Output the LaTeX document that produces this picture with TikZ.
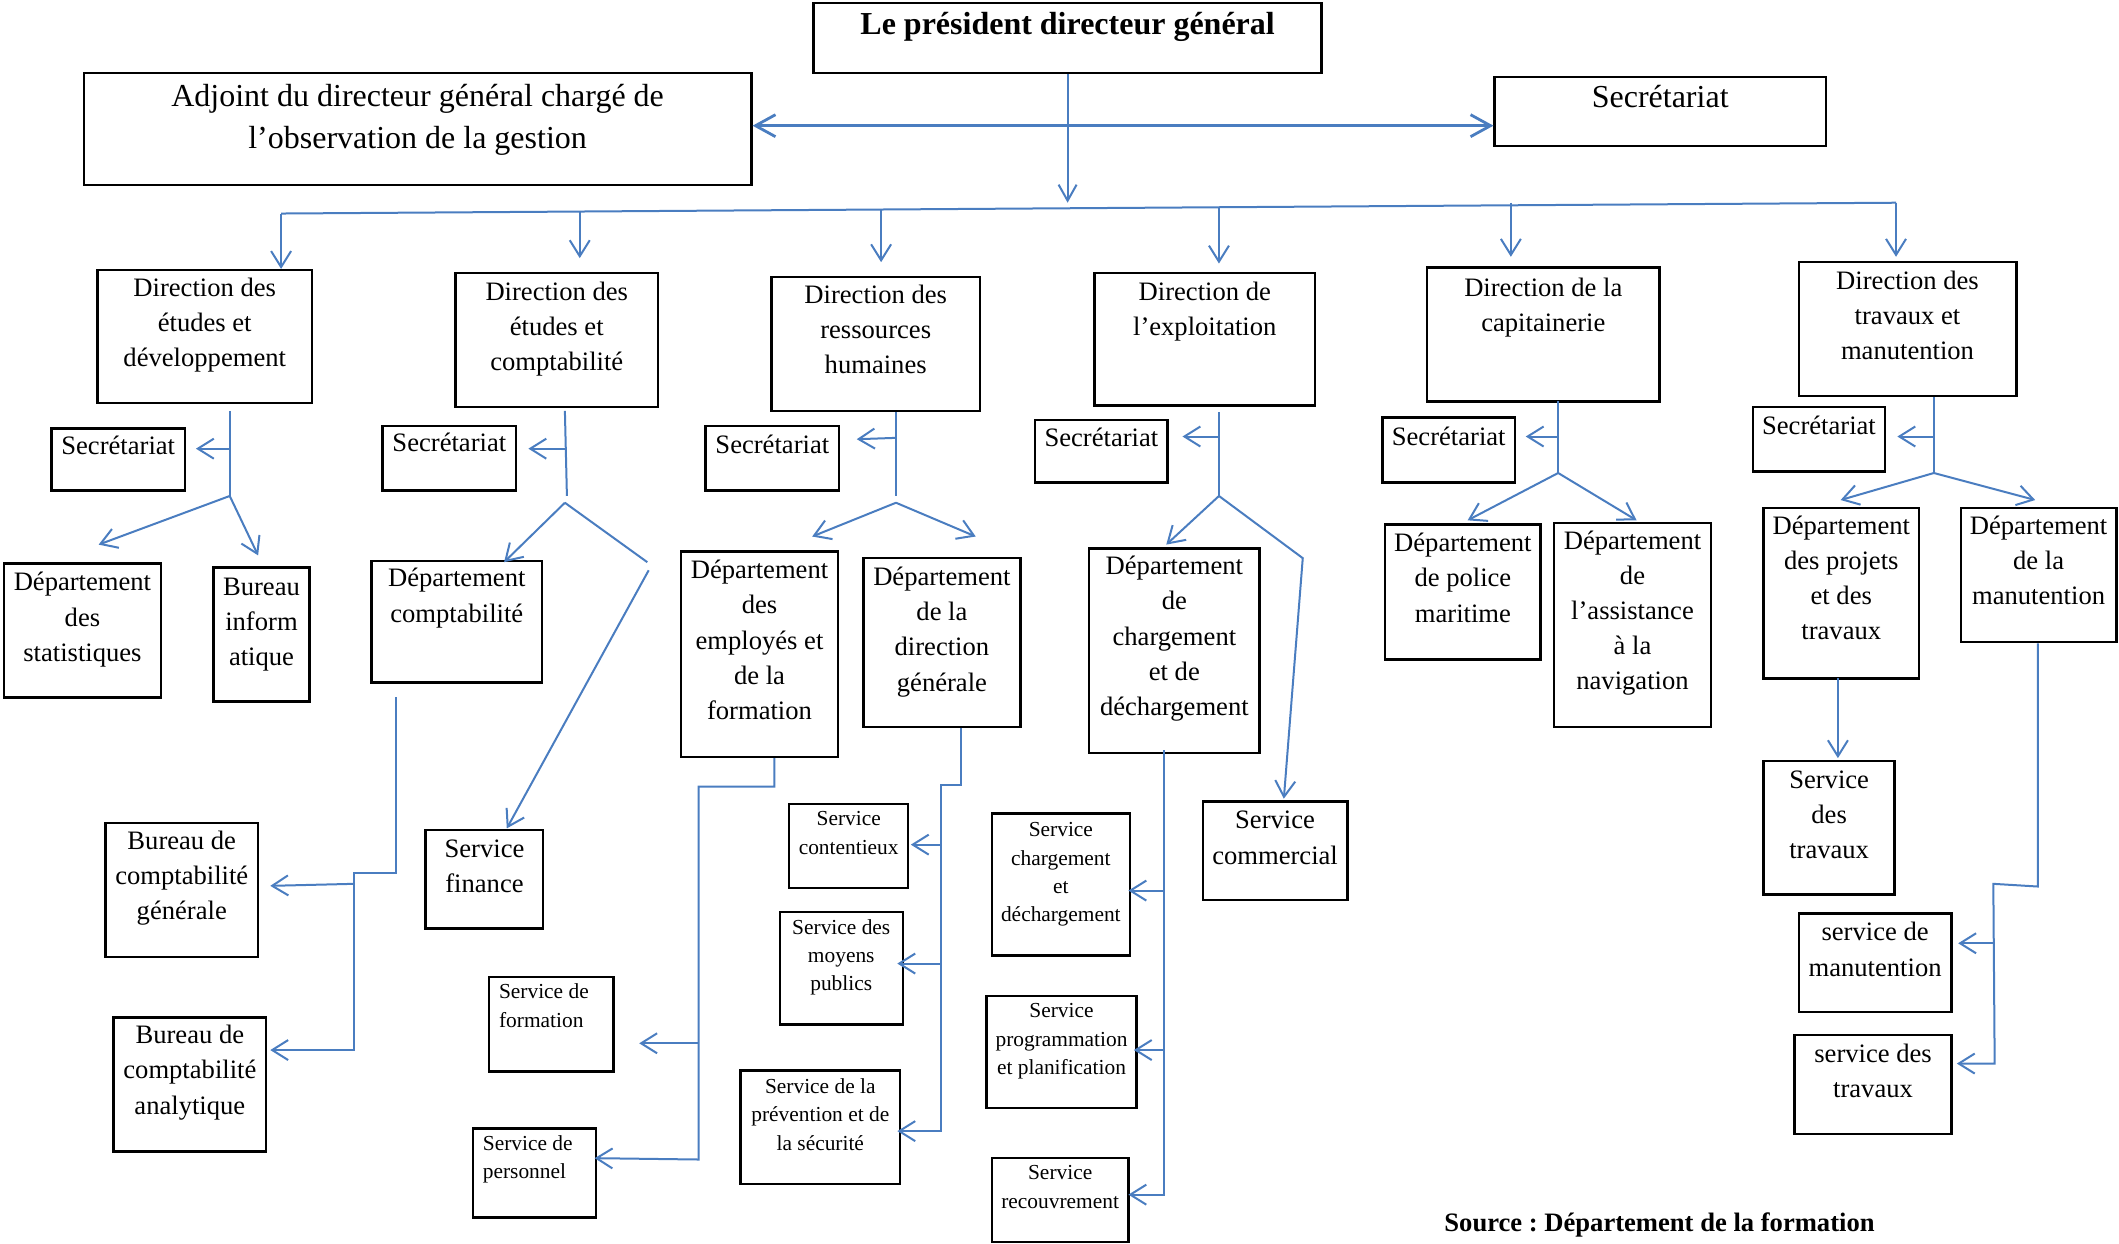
\documentclass[tikz,border=0pt]{standalone}
\usepackage{fontspec}
\setmainfont{Liberation Serif}
\usetikzlibrary{arrows.meta,fit}
\definecolor{ln}{HTML}{4A7DC0}
\frenchspacing
\newcommand\bxn[8]{%
  \node[bx, fit={(#2,#3) (#4,#5)}] (#1) {};
  \node[#6] (#1-t) at ({(#2+#4)/2},#7) {\strut #8};}
\tikzset{
 bx/.style={draw=black, line width=1.2pt, inner sep=0pt, rectangle},
 tb/.style={font=\fontsize{16}{21}\selectfont, align=center, inner sep=0pt, anchor=north, yshift=9.2pt},
 tbb/.style={tb, font=\fontsize{16}{21}\selectfont\bfseries},
 tm/.style={font=\fontsize{13.3}{17.6}\selectfont, align=center, inner sep=0pt, anchor=north, yshift=7.6pt},
 ts/.style={font=\fontsize{10.7}{14.2}\selectfont, align=center, inner sep=0pt, anchor=north, yshift=6.0pt},
 cn/.style={draw=ln, line width=1pt, line join=miter},
 ar/.style={cn, -{Straight Barb[length=8pt,width=10pt]}},
 art/.style={draw=ln, line width=1.4pt, {Straight Barb[length=10pt,width=11pt]}-{Straight Barb[length=10pt,width=11pt]}},
}
\begin{document}
\begin{tikzpicture}[x=0.6757pt,y=-0.6757pt]
\useasboundingbox (0,0) rectangle (1568,920);
% ---------- top ----------
\bxn{pdg}{602}{2}{978}{54}{tbb}{17}{Le président directeur général}
\bxn{adj}{62}{54}{556}{137}{tb}{70}{Adjoint du directeur général chargé de\\l’observation de la gestion}
\bxn{sec0}{1106}{57}{1351}{108}{tb}{71}{Secrétariat}
% ---------- directions ----------
\bxn{d1}{72}{200}{231}{298}{tm}{212}{Direction des\\études et\\développement}
\bxn{d2}{337}{202}{487}{301}{tm}{215}{Direction des\\études et\\comptabilité}
\bxn{d3}{571}{205}{725}{304}{tm}{217}{Direction des\\ressources\\humaines}
\bxn{d4}{810}{202}{973}{300}{tm}{215}{Direction de\\l’exploitation}
\bxn{d5}{1056}{198}{1228}{297}{tm}{212}{Direction de la\\capitainerie}
\bxn{d6}{1331}{194}{1492}{293}{tm}{207}{Direction des\\travaux et\\manutention}
% ---------- secretariats ----------
\bxn{s1}{38}{317}{137}{363}{tm}{329}{Secrétariat}
\bxn{s2}{283}{315}{382}{363}{tm}{327}{Secrétariat}
\bxn{s3}{522}{315}{621}{363}{tm}{328}{Secrétariat}
\bxn{s4}{766}{311}{864}{357}{tm}{323}{Secrétariat}
\bxn{s5}{1023}{309}{1121}{357}{tm}{322}{Secrétariat}
\bxn{s6}{1297}{301}{1395}{349}{tm}{314}{Secrétariat}
% ---------- column 1 ----------
\bxn{dstat}{3}{417}{119}{516}{tm}{430}{Département\\des\\statistiques}
\bxn{binf}{158}{420}{229}{519}{tm}{433}{Bureau\\inform\\atique}
% ---------- column 2 ----------
\bxn{dcomp}{275}{415}{401}{505}{tm}{427}{Département\\comptabilité}
\bxn{sfin}{315}{614}{402}{687}{tm}{627}{Service\\finance}
\bxn{bcg}{78}{609}{191}{708}{tm}{621}{Bureau de\\comptabilité\\générale}
\bxn{bca}{84}{753}{197}{852}{tm}{765}{Bureau de\\comptabilité\\analytique}
% ---------- column 3 ----------
\bxn{demp}{504}{408}{620}{560}{tm}{421}{Département\\des\\employés et\\de la\\formation}
\bxn{ddg}{639}{413}{755}{538}{tm}{426}{Département\\de la\\direction\\générale}
\bxn{scont}{584}{595}{672}{657}{ts}{605}{Service\\contentieux}
\bxn{smoy}{577}{675}{668}{758}{ts}{685}{Service des\\moyens\\publics}
\bxn{sprev}{548}{792}{666}{876}{ts}{803}{Service de la\\prévention et de\\la sécurité}
\node[bx, fit={(362,723) (454,793)}] (sform) {};
\node[ts, anchor=north west, align=left] (sform-t) at (369,733) {\strut Service de\\formation};
\node[bx, fit={(350,835) (441,901)}] (spers) {};
\node[ts, anchor=north west, align=left] (spers-t) at (357,845) {\strut Service de\\personnel};
% ---------- column 4 ----------
\bxn{dch}{806}{406}{932}{557}{tm}{418}{Département\\de\\chargement\\et de\\déchargement}
\bxn{scom}{890}{593}{997}{666}{tm}{606}{Service\\commercial}
\bxn{schd}{734}{602}{836}{707}{ts}{613}{Service\\chargement\\et\\déchargement}
\bxn{sprog}{730}{737}{841}{820}{ts}{747}{Service\\programmation\\et planification}
\bxn{srec}{734}{857}{835}{919}{ts}{867}{Service\\recouvrement}
% ---------- column 5 ----------
\bxn{dpol}{1025}{388}{1140}{488}{tm}{401}{Département\\de police\\maritime}
\bxn{dass}{1150}{387}{1266}{538}{tm}{399}{Département\\de\\l’assistance\\à la\\navigation}
% ---------- column 6 ----------
\bxn{dproj}{1305}{376}{1420}{502}{tm}{388}{Département\\des projets\\et des\\travaux}
\bxn{dman}{1451}{376}{1566}{475}{tm}{388}{Département\\de la\\manutention}
\bxn{strav}{1305}{563}{1402}{662}{tm}{576}{Service\\des\\travaux}
\bxn{sman}{1331}{676}{1444}{749}{tm}{689}{service de\\manutention}
\bxn{stx}{1328}{766}{1444}{839}{tm}{779}{service des\\travaux}
% ---------- source ----------
\node[tm, font=\fontsize{13.3}{17.6}\selectfont\bfseries] (src) at (1228,904) {\strut Source : Département de la formation};

% ================= connectors =================
\coordinate (mid) at (790,93);
\coordinate (pdgA) at (790,150);
\draw[cn, -{Straight Barb[length=8pt,width=9pt]}] (pdg) -- (pdgA);
\draw[art] (adj.east |- mid) -- (sec0.west |- mid);
% bus
\coordinate (bL) at (208,158);
\coordinate (bR) at (1403,150);
\draw[cn] (bL) -- (bR);
\coordinate (b2) at (429,156); \coordinate (b3) at (652,155);
\coordinate (b4) at (902,153); \coordinate (b5) at (1118,150);
\coordinate (t1) at (208,199); \coordinate (t2) at (429,191); \coordinate (t3) at (652,194);
\coordinate (t4) at (902,195); \coordinate (t5) at (1118,190); \coordinate (t6) at (1403,190);
\draw[ar] (bL) -- (t1);
\draw[ar] (b2) -- (t2);
\draw[ar] (b3) -- (t3);
\draw[ar] (b4) -- (t4);
\draw[ar] (b5) -- (t5);
\draw[ar] (bR) -- (t6);
% column 1
\coordinate (k1) at (170,304); \coordinate (j1) at (170,367); \coordinate (m1) at (170,332);
\coordinate (e1) at (145,332); \coordinate (l1) at (73,403); \coordinate (r1) at (191,411);
\draw[cn] (k1) -- (j1);
\draw[ar] (m1) -- (e1);
\draw[ar] (j1) -- (l1);
\draw[ar] (j1) -- (r1);
% column 2
\coordinate (k2) at (418,304); \coordinate (j2a) at (419.5,367); \coordinate (m2) at (418.5,332);
\coordinate (e2) at (391,332); \coordinate (j2) at (418,372); \coordinate (l2) at (373,416);
\coordinate (r2a) at (479,416); \coordinate (r2b) at (480,422); \coordinate (r2) at (375,613);
\draw[cn] (k2) -- (j2a);
\draw[ar] (m2) -- (e2);
\draw[ar] (j2) -- (l2);
\draw[cn] (j2) -- (r2a);
\draw[ar] (r2b) -- (r2);
\coordinate (p2a) at (293,516); \coordinate (p2b) at (293,646); \coordinate (p2c) at (262,646);
\coordinate (p2d) at (262,777); \coordinate (p2e) at (200,777);
\coordinate (p2f) at (262,654); \coordinate (p2g) at (200,655.5);
\draw[ar] (p2a) -- (p2b) -- (p2c) -- (p2d) -- (p2e);
\draw[ar] (p2f) -- (p2g);
% column 3
\coordinate (k3) at (663,305); \coordinate (j3a) at (663,367); \coordinate (m3) at (663,324);
\coordinate (e3) at (634,325); \coordinate (j3) at (663,372); \coordinate (l3) at (601,397);
\coordinate (r3) at (722,397);
\draw[cn] (k3) -- (j3a);
\draw[ar] (m3) -- (e3);
\draw[ar] (j3) -- (l3);
\draw[ar] (j3) -- (r3);
\coordinate (q3a) at (573,561); \coordinate (q3b) at (573,582); \coordinate (q3c) at (517,582);
\coordinate (q3d) at (517,858); \coordinate (q3e) at (440,857);
\coordinate (q3f) at (517,772); \coordinate (q3g) at (473,772);
\draw[ar] (q3a) -- (q3b) -- (q3c) -- (q3d) -- (q3e);
\draw[ar] (q3f) -- (q3g);
\coordinate (g3a) at (711,539); \coordinate (g3b) at (711,581); \coordinate (g3c) at (696,581);
\coordinate (g3d) at (696,837); \coordinate (g3e) at (664,837);
\coordinate (g3f) at (696,625); \coordinate (g3g) at (674,625);
\coordinate (g3h) at (696,713); \coordinate (g3i) at (664,713);
\draw[ar] (g3a) -- (g3b) -- (g3c) -- (g3d) -- (g3e);
\draw[ar] (g3f) -- (g3g);
\draw[ar] (g3h) -- (g3i);
% column 4
\coordinate (k4) at (902,305); \coordinate (j4) at (902,367); \coordinate (m4) at (902,323);
\coordinate (e4) at (875,323); \coordinate (l4) at (863,403); \coordinate (r4a) at (964,413);
\coordinate (r4) at (950,591);
\draw[cn] (k4) -- (j4);
\draw[ar] (m4) -- (e4);
\draw[ar] (j4) -- (l4);
\draw[ar] (j4) -- (r4a) -- (r4);
\coordinate (h4a) at (861,555); \coordinate (h4b) at (861,884); \coordinate (h4c) at (835,884);
\coordinate (h4d) at (861,659); \coordinate (h4e) at (835,659);
\coordinate (h4f) at (861,777); \coordinate (h4g) at (839,777);
\draw[ar] (h4a) -- (h4b) -- (h4c);
\draw[ar] (h4d) -- (h4e);
\draw[ar] (h4f) -- (h4g);
% column 5
\coordinate (k5) at (1153,297); \coordinate (j5) at (1153,350); \coordinate (m5) at (1153,323);
\coordinate (e5) at (1129,323); \coordinate (l5) at (1086,385); \coordinate (r5) at (1211,385);
\draw[cn] (k5) -- (j5);
\draw[ar] (m5) -- (e5);
\draw[ar] (j5) -- (l5);
\draw[ar] (j5) -- (r5);
% column 6
\coordinate (k6) at (1431,294); \coordinate (j6) at (1431,350); \coordinate (m6) at (1431,323);
\coordinate (e6) at (1404,323); \coordinate (l6) at (1362,370); \coordinate (r6) at (1506,370);
\draw[cn] (k6) -- (j6);
\draw[ar] (m6) -- (e6);
\draw[ar] (j6) -- (l6);
\draw[ar] (j6) -- (r6);
\coordinate (v6a) at (1360,502); \coordinate (v6b) at (1360,561);
\draw[ar] (v6a) -- (v6b);
\coordinate (w6a) at (1508,476); \coordinate (w6b) at (1508,656); \coordinate (w6c) at (1475,654);
\coordinate (w6d) at (1476,787); \coordinate (w6e) at (1448,787);
\coordinate (w6f) at (1475.5,698); \coordinate (w6g) at (1449,698);
\draw[ar] (w6a) -- (w6b) -- (w6c) -- (w6d) -- (w6e);
\draw[ar] (w6f) -- (w6g);
\end{tikzpicture}
\end{document}
